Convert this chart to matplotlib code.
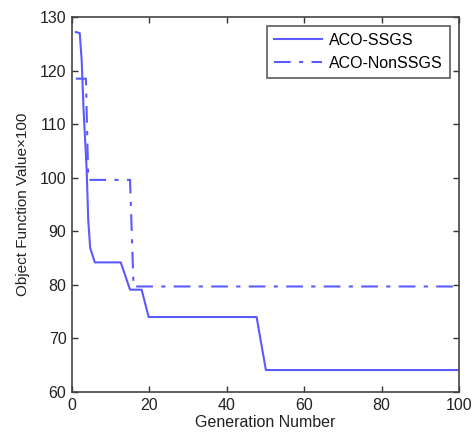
import matplotlib
matplotlib.use("Agg")
import matplotlib.pyplot as plt

plt.rcParams['font.family'] = ['Liberation Sans', 'DejaVu Sans']

# Convergence of best objective value per generation
gen_ssgs = [1, 2, 2.5, 3, 3.8, 4.2, 4.7, 5.9, 12.6, 15, 18, 19.8, 47.7, 50.1, 100]
val_ssgs = [127.2, 127.0, 122.0, 112.6, 101.4, 92.1, 86.9, 84.2, 84.2, 79.1, 79.1, 74.0, 74.0, 64.1, 64.1]

gen_non = [1, 3.6, 4.2, 15.0, 15.9, 100]
val_non = [118.5, 118.5, 99.6, 99.6, 79.7, 79.7]

xticks = [0, 20, 40, 60, 80, 100]
yticks = [60, 70, 80, 90, 100, 110, 120, 130]

color = '#5a5aff'

fig = plt.figure(figsize=(4.72, 4.36), dpi=100)
ax = fig.add_axes([0.1525, 0.1009, 0.82, 0.86])

ax.plot(gen_ssgs, val_ssgs, '-', color=color, lw=1.5, label='ACO-SSGS')
ax.plot(gen_non, val_non, '-.', color=color, lw=1.5, label='ACO-NonSSGS',
        dashes=(8, 4, 2, 4))

ax.set_xlim(0, 100)
ax.set_ylim(60, 130)
ax.set_xticks(xticks)
ax.set_yticks(yticks)
ax.tick_params(direction='in', top=True, right=True, labelsize=11.5,
               length=4, width=1, colors='#333333', labelcolor='#222222', pad=4)
for s in ax.spines.values():
    s.set_linewidth(1.2)
    s.set_color('#444444')

ax.set_xlabel('Generation Number', fontsize=11.5, color='#222222', labelpad=2)
ax.set_ylabel('Object Function Value×100', fontsize=11, color='#222222', labelpad=7)

leg = ax.legend(loc='upper right', fontsize=11.5, frameon=True, fancybox=False,
                edgecolor='#333333', handlelength=3.0, borderpad=0.45,
                labelspacing=0.5, handletextpad=0.45, borderaxespad=0.55)
leg.get_frame().set_linewidth(1.2)

fig.savefig('out.png', dpi=100)
